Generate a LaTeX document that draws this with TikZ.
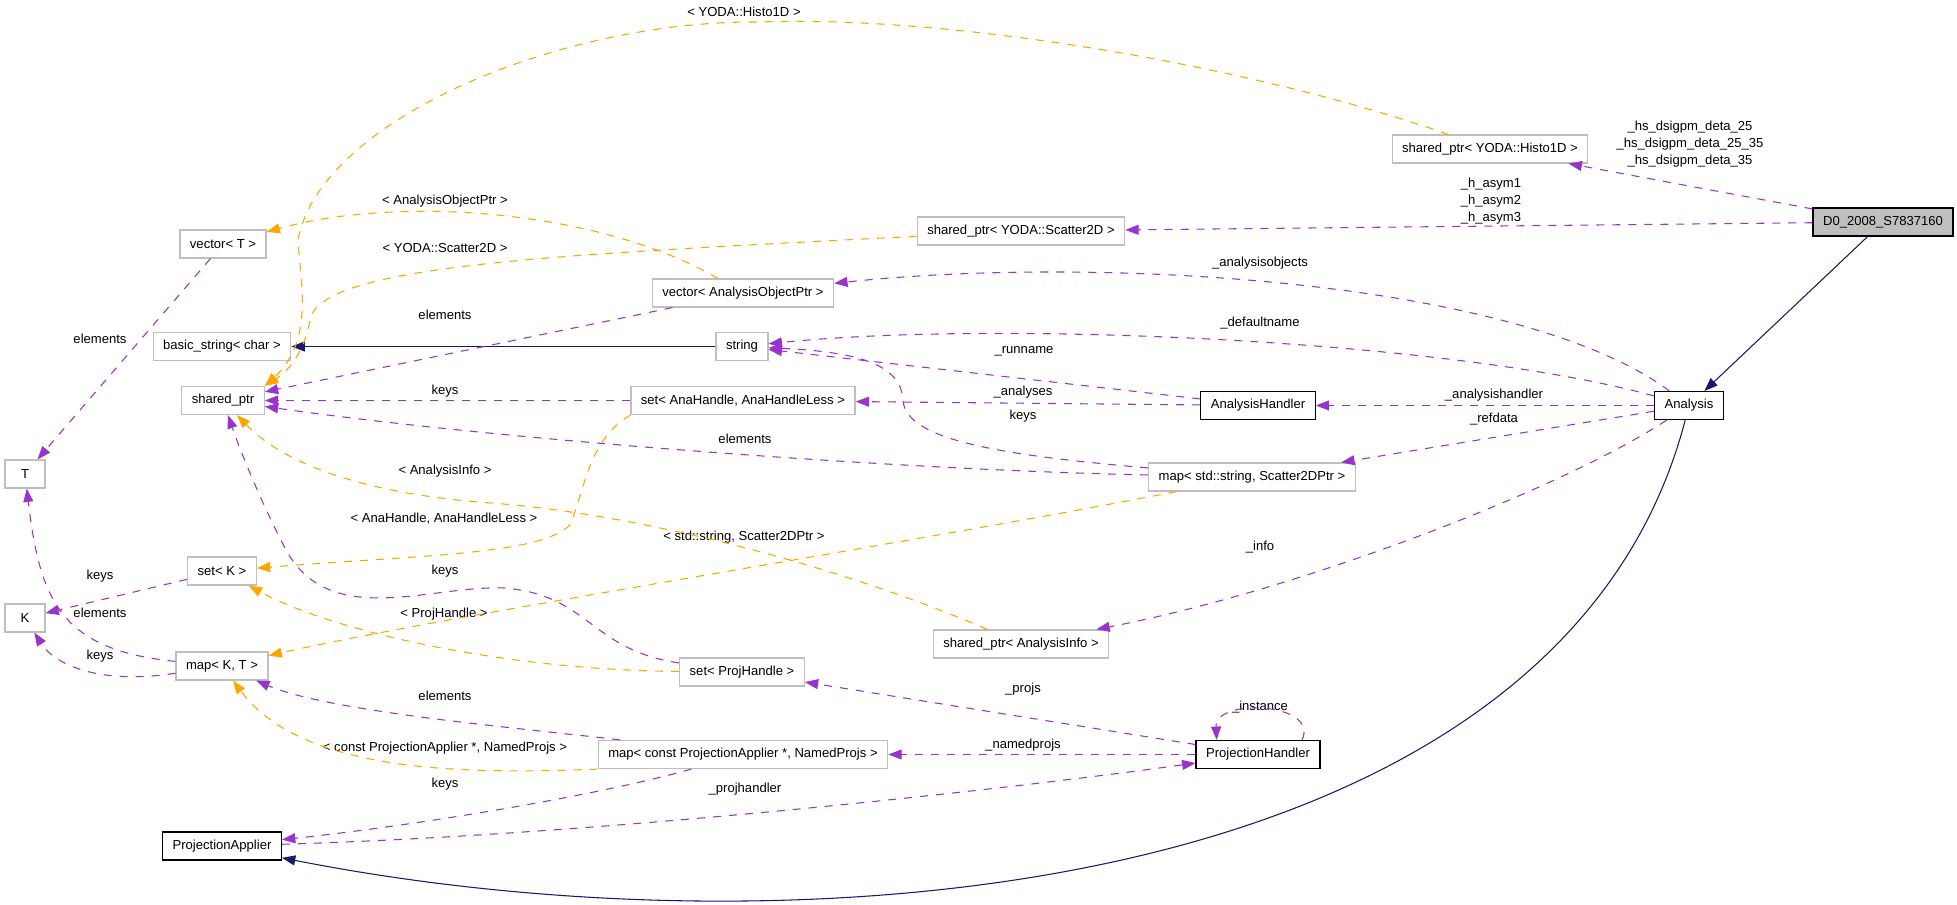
\documentclass[tikz,border=0pt]{standalone}
\usepackage{fontspec}
\setmainfont{Liberation Sans}
\usetikzlibrary{arrows.meta}

\definecolor{mempurple}{HTML}{9A32CD}
\definecolor{tplorange}{HTML}{FFA500}
\definecolor{inhnavy}{HTML}{191970}
\definecolor{boxgray}{HTML}{BFBFBF}

\begin{document}
\begin{tikzpicture}[x=0.75pt,y=-0.75pt,font=\fontsize{9.8}{13}\selectfont,
	>={Triangle[length=10pt,width=7.5pt]},
	cls/.style={draw=boxgray,line width=0.9pt,minimum height=21pt,inner xsep=7.5pt,inner ysep=0pt,fill=white},
	doc/.style={cls,draw=black},
	lbl/.style={inner sep=0pt,align=center},
	mem/.style={->,mempurple,dash pattern=on 6pt off 6pt,line width=0.8pt},
	tpl/.style={->,tplorange,dash pattern=on 6pt off 6pt,line width=0.8pt},
	inh/.style={->,inhnavy,line width=0.8pt}]
	   \useasboundingbox (0,0) rectangle (1957,905);
	   % classes
	   \node[doc,fill=boxgray] (d0) at (1883,222) {D0\_2008\_S7837160};
	   \node[doc] (ana) at (1689,405.5) {Analysis};
	   \node[cls] (h1d) at (1490,149) {shared\_ptr< YODA::Histo1D >};
	   \node[cls] (s2d) at (1021,231) {shared\_ptr< YODA::Scatter2D >};
	   \node[cls] (vaop) at (743,293) {vector< AnalysisObjectPtr >};
	   \node[cls] (str) at (742,346.5) {string};
	   \node[cls] (sah) at (743,400.5) {set< AnaHandle, AnaHandleLess >};
	   \node[doc] (ahd) at (1258,405.5) {AnalysisHandler};
	   \node[cls] (mss) at (1252,477) {map< std::string, Scatter2DPtr >};
	   \node[cls] (sai) at (1021,644) {shared\_ptr< AnalysisInfo >};
	   \node[cls] (sph) at (742,672) {set< ProjHandle >};
	   \node[cls] (mcp) at (743,754.5) {map< const ProjectionApplier *, NamedProjs >};
	   \node[doc] (phd) at (1258,754.5) {ProjectionHandler};
	   \node[doc] (pap) at (222,846) {ProjectionApplier};
	   \node[cls] (vt) at (223,244) {vector< T >};
	   \node[cls] (bs) at (222,346.5) {basic\_string< char >};
	   \node[cls] (sp) at (223,400.5) {shared\_ptr};
	   \node[cls,minimum width=30pt] (t) at (25,474) {T};
	   \node[cls,minimum width=30pt] (k) at (25,618) {K};
	   \node[cls] (sk) at (222,571) {set< K >};
	   \node[cls] (mkt) at (222,666) {map< K, T >};
	   % labels
	   \node[lbl] (lb_histo) at (744,12) {< YODA::Histo1D >};
	   \node[lbl] (lb_hs) at (1690,144) {\_hs\_dsigpm\_deta\_25\\\_hs\_dsigpm\_deta\_25\_35\\\_hs\_dsigpm\_deta\_35};
	   \node[lbl] (lb_asym) at (1491,201) {\_h\_asym1\\\_h\_asym2\\\_h\_asym3};
	   \node[lbl] (lb_aop) at (445,201) {< AnalysisObjectPtr >};
	   \node[lbl] (lb_scat) at (445,248) {< YODA::Scatter2D >};
	   \node[lbl] (lb_aobj) at (1260,263) {\_analysisobjects};
	   \node[lbl] (lb_el_v) at (445,315) {elements};
	   \node[lbl] (lb_defn) at (1260,323) {\_defaultname};
	   \node[lbl] (lb_el_t) at (100,339) {elements};
	   \node[lbl] (lb_runn) at (1024,351) {\_runname};
	   \node[lbl] (lb_k_s) at (445,391) {keys};
	   \node[lbl] (lb_anas) at (1023,392) {\_analyses};
	   \node[lbl] (lb_ahd) at (1494,395) {\_analysishandler};
	   \node[lbl] (lb_k_m) at (1023,416) {keys};
	   \node[lbl] (lb_refd) at (1494,419) {\_refdata};
	   \node[lbl] (lb_el_m) at (745,439) {elements};
	   \node[lbl] (lb_info) at (445,471) {< AnalysisInfo >};
	   \node[lbl] (lb_anah) at (444,519) {< AnaHandle, AnaHandleLess >};
	   \node[lbl] (lb_sstr) at (744,537) {< std::string, Scatter2DPtr >};
	   \node[lbl] (lb_inf) at (1260,547) {\_info};
	   \node[lbl] (lb_k_p) at (445,571) {keys};
	   \node[lbl] (lb_k_k) at (100,576) {keys};
	   \node[lbl] (lb_el_k) at (100,613) {elements};
	   \node[lbl] (lb_ph) at (444,614) {< ProjHandle >};
	   \node[lbl] (lb_k_mk) at (100,656) {keys};
	   \node[lbl] (lb_projs) at (1023,689) {\_projs};
	   \node[lbl] (lb_el_c) at (445,696) {elements};
	   \node[lbl] (lb_inst) at (1260,707) {\_instance};
	   \node[lbl] (lb_nprj) at (1023,745) {\_namedprojs};
	   \node[lbl] (lb_cpa) at (445,748) {< const ProjectionApplier *, NamedProjs >};
	   \node[lbl] (lb_k_c) at (445,784) {keys};
	   \node[lbl] (lb_phd) at (745,789) {\_projhandler};
	   % inheritance
	    \path[inh]
	    (d0) edge (ana)
	    (str) edge (bs);
	    \draw[inh] (ana) .. controls (1560,900) and (800,960) .. (pap);
	   % members
	    \path[mem]
	    (d0) edge (h1d)
	         edge (s2d)
	    (ana) edge (ahd)
	          edge (mss)
	    (ahd) edge (str)
	          edge (sah)
	    (phd) edge (sph)
	          edge (mcp)
	    (sah) edge (sp)
	    (vaop) edge (sp)
	    (vt) edge (t)
	    (sk) edge (k);
	    \draw[mem] (ana) .. controls (1520,280) and (1100,255) .. (vaop);
	    \draw[mem] (ana) .. controls (1450,340) and (1000,320) .. (str);
	    \draw[mem] (ana) .. controls (1560,490) and (1300,590) .. (sai);
	    \draw[mem] (pap) .. controls (600,835) and (1000,790) .. (phd);
	    \draw[mem] ([xshift=33pt]phd.north) .. controls +(13.5pt,28pt) and +(-1.5pt,32pt) .. ([xshift=-31pt]phd.north);
	    \draw[mem] (mcp) .. controls (600,795) and (420,825) .. (pap);
	    \draw[mem] (mcp) .. controls (520,728) and (330,712) .. (mkt);
	    \draw[mem] (mss) .. controls (900,470) and (500,440) .. (sp);
	    \draw[mem] (mss) .. controls (1000,455) and (905,440) .. (903,400) .. controls (901,365) and (860,352) .. (str);
	    \draw[mem] (mkt) .. controls (60,650) and (40,600) .. (t);
	    \draw[mem] (mkt) .. controls (100,685) and (55,665) .. (k);
	    \draw[mem] (sph) .. controls (590,650) and (590,595) .. (504,588) .. controls (430,585) and (330,630) .. (286,550) .. controls (260,500) and (240,450) .. (sp);
	   % templates
	    \draw[tpl] (h1d) .. controls (1250,65) and (950,15) .. (760,22) .. controls (560,20) and (320,120) .. (298,240) .. controls (300,280) and (315,340) .. (sp.north east);
	    \draw[tpl] (s2d) .. controls (550,255) and (320,265) .. (310,320) .. controls (305,350) and (290,370) .. (sp.north east);
	    \draw[tpl] (vaop) .. controls (600,210) and (400,195) .. (vt);
	    \draw[tpl] (sah.south west) .. controls (588,440) and (585,490) .. (570,525) .. controls (540,555) and (420,555) .. (sk);
	    \draw[tpl] (sai) .. controls (850,570) and (650,515) .. (491,503) .. controls (380,495) and (290,470) .. (sp);
	    \draw[tpl] (mss) .. controls (900,545) and (450,615) .. (mkt);
	    \draw[tpl] (sph) .. controls (500,670) and (330,630) .. (sk);
	    \draw[tpl] (mcp.south west) .. controls (450,775) and (300,770) .. (mkt);
	\end{tikzpicture}
\end{document}
